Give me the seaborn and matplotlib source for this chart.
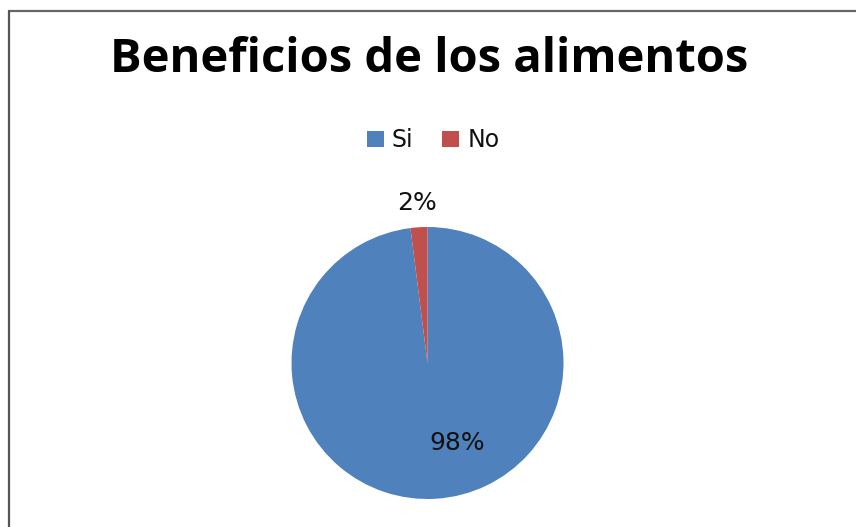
import matplotlib
matplotlib.use("Agg")
import matplotlib.pyplot as plt
from matplotlib import font_manager
from matplotlib.lines import Line2D
import seaborn as sns

# datos del grafico
categorias = ["Si", "No"]
valores = [98, 2]
titulo = "Beneficios de los alimentos"
colores = ["#4F81BD", "#C0504D"]

sns.set_theme(style="white")
plt.rcParams['font.family'] = ['DejaVu Sans']

nombres = {f.name for f in font_manager.fontManager.ttflist}
fuente_titulo = 'Liberation Sans Narrow' if 'Liberation Sans Narrow' in nombres else 'Open Sans'

W, H = 856, 527
fig = plt.figure(figsize=(W / 100, H / 100), dpi=100)
fig.patch.set_facecolor('white')

# borde gris arriba e izquierda
fig.add_artist(Line2D([9 / W, 1], [1 - 11 / H, 1 - 11 / H], color='#666666', lw=1.6))
fig.add_artist(Line2D([9 / W, 9 / W], [0, 1 - 11 / H], color='#555555', lw=1.6))

# torta
cx, cy, r = 427.5, 363, 136
ax = fig.add_axes([(cx - r) / W, (H - cy - r) / H, 2 * r / W, 2 * r / H])
wedges, textos, pcts = ax.pie(
    valores,
    colors=colores,
    startangle=90,
    counterclock=False,
    autopct='%1.0f%%',
    pctdistance=1.18,
    wedgeprops=dict(linewidth=0),
    textprops=dict(fontsize=18, color='#111111'),
)
ax.set_xlim(-1, 1)
ax.set_ylim(-1, 1)
ax.set_aspect('equal')
for t in pcts:
    t.set_clip_on(False)
# etiqueta del 98% dentro de la torta
pcts[0].set_position((0.22, -0.59))

# titulo ajustado al ancho
tt = fig.text(429 / W, 1 - 72 / H, titulo, ha='center', va='baseline',
              fontsize=40, fontweight='bold', family=fuente_titulo, color='black')
fig.canvas.draw()
ancho = tt.get_window_extent().width
tt.set_fontsize(40 * 638 / ancho)

# leyenda
leg = fig.legend(wedges, categorias, loc='center', bbox_to_anchor=(433 / W, 1 - 140 / H),
                 ncol=2, frameon=False, fontsize=17, handlelength=0.72, handleheight=0.68,
                 handletextpad=0.35, columnspacing=1.2)
for t in leg.get_texts():
    t.set_color('#111111')

fig.savefig('out.png', dpi=100)
